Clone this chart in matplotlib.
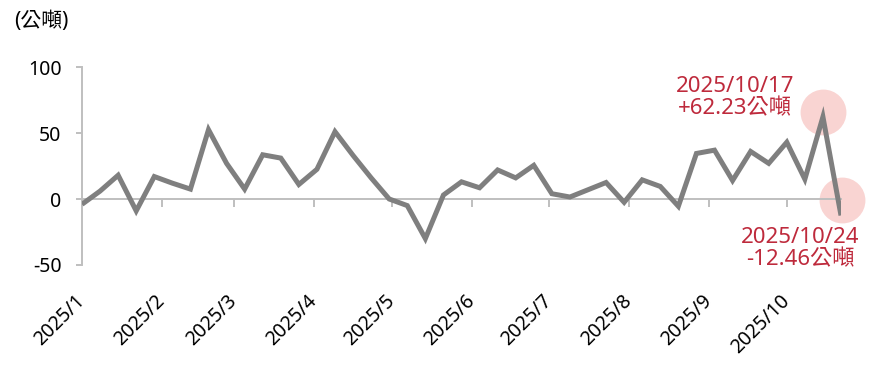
import numpy as np
import pandas as pd
import matplotlib
matplotlib.use('Agg')
import matplotlib.pyplot as plt
from matplotlib.transforms import offset_copy

plt.rcParams['font.family'] = ['Noto Sans', 'Noto Sans CJK TC', 'DejaVu Sans']
plt.rcParams['axes.unicode_minus'] = False

# weekly net change (tonnes), Fridays 2025/1/3 .. 2025/10/24
week_dates = pd.date_range('2025-01-03', '2025-10-24', freq='7D')
net_change = [-4, 6, 18, -9, 17,
              12, 7.5, 52.5, 27,
              7.5, 33.5, 31, 11,
              22.5, 51, 33, 16,
              0, -5, -30, 3, 13,
              8.5, 22, 16, 25.5,
              4, 1.5, 7, 12.5,
              -2.5, 14.5, 9.5, -5.5, 34.5,
              37, 14, 36, 27,
              43, 15, 62.23, -12.46]

month_starts = pd.date_range('2025-01-01', '2025-10-01', freq='MS')
month_labels = ['2025/%d' % d.month for d in month_starts]
y_ticks = [-50, 0, 50, 100]

callout_dates = ['2025-10-17', '2025-10-24']
callout_texts = ['2025/10/17\n+62.23公噸', '2025/10/24\n-12.46公噸']

axis_gray = '#bfbfbf'
red = '#be2a3c'

fig = plt.figure(figsize=(8.92, 3.68), dpi=100)
ax = fig.add_axes([82/892, 1 - 265/368, (841 - 82)/892, (265 - 67)/368])

ax.plot(week_dates, net_change, color='#7f7f7f', lw=3.6,
        solid_joinstyle='miter', solid_capstyle='butt', zorder=3)

# excel date axis puts the month marks two days after the 1st
tick_pos = month_starts + pd.Timedelta(days=2)

ax.set_xlim(week_dates[0], week_dates[-1])
ax.set_ylim(-50, 100)
ax.set_yticks(y_ticks)
ax.set_xticks(tick_pos)
ax.tick_params(axis='x', direction='out', length=5.5, width=1.4,
               color=axis_gray, labelbottom=False)
ax.tick_params(axis='y', direction='out', length=4.3, width=1.4,
               color=axis_gray, labelsize=14, pad=10.5)

for s in ['top', 'right']:
    ax.spines[s].set_visible(False)
ax.spines['left'].set_color(axis_gray)
ax.spines['left'].set_linewidth(1.4)
ax.spines['bottom'].set_position(('data', 0))
ax.spines['bottom'].set_color(axis_gray)
ax.spines['bottom'].set_linewidth(1.4)

sec = ax.secondary_xaxis('bottom')
sec.set_xticks(tick_pos, labels=month_labels)
sec.tick_params(length=0, pad=24, labelsize=14)
sec.spines['bottom'].set_visible(False)
for lab in sec.get_xticklabels():
    lab.set_rotation(45)
    lab.set_ha('right')
    lab.set_va('center')
    lab.set_rotation_mode('anchor')

# highlight circles and callouts
circle_shift = [(0.5, 5), (1, 15)]
text_shift = [(-88, 19), (-41, -33)]
for d, txt, cs, ts in zip(callout_dates, callout_texts, circle_shift, text_shift):
    d = pd.Timestamp(d)
    v = net_change[list(week_dates).index(d)]
    tr = offset_copy(ax.transData, fig=fig, x=cs[0], y=cs[1], units='dots')
    ax.plot([d], [v], 'o', ms=33, color='#f9d4d2', mec='none',
            transform=tr, zorder=2, clip_on=False)
    ax.annotate(txt, (d, v), xytext=ts, textcoords='offset pixels',
                ha='center', va='center', color=red, fontsize=16,
                linespacing=1.05, annotation_clip=False)

fig.text(14/892, 1 - 22/368, '(公噸)', fontsize=15, ha='left', va='center')

fig.savefig('out.png', dpi=100)
